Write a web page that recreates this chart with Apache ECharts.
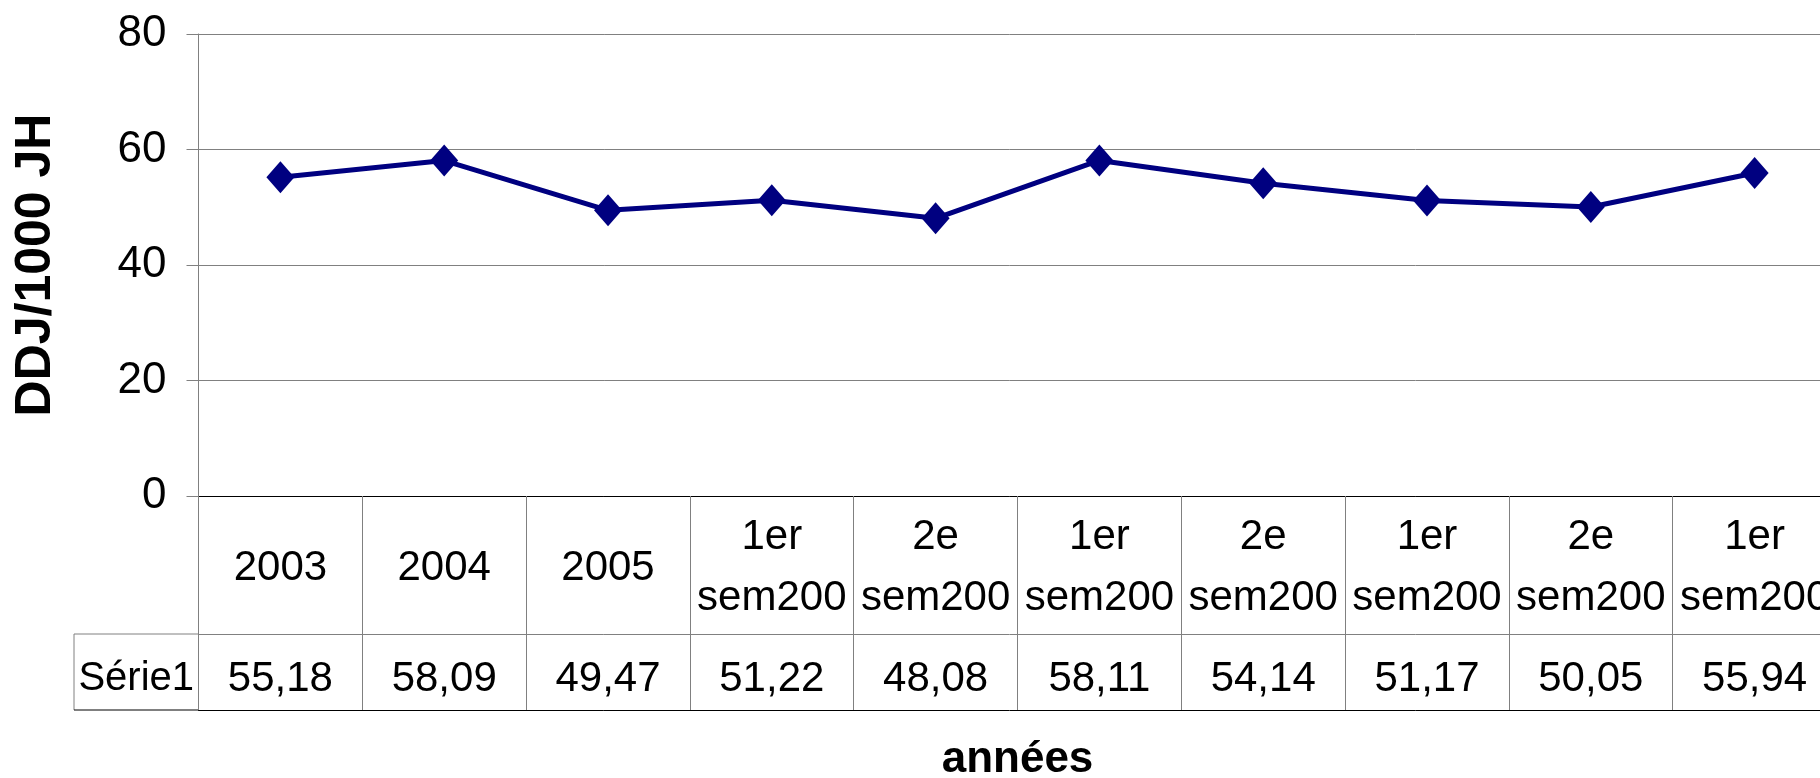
<!DOCTYPE html>
<html>
<head>
<meta charset="utf-8">
<script src="https://cdn.jsdelivr.net/npm/echarts@6/dist/echarts.min.js"></script>
<style>
  html, body { margin: 0; padding: 0; background: #fff; }
  #chart { width: 1820px; height: 778px; }
</style>
</head>
<body>
<div id="chart"></div>
<script>
// categories (text as shown, truncated in the original)
var categories = ['2003', '2004', '2005', '1er\nsem200', '2e\nsem200', '1er\nsem200',
                  '2e\nsem200', '1er\nsem200', '2e\nsem200', '1er\nsem200'];
var seriesName = 'Série1';
var seriesValues = [55.18, 58.09, 49.47, 51.22, 48.08, 58.11, 54.14, 51.17, 50.05, 55.94];
var yTicks = [0, 20, 40, 60, 80];

// layout
var font = "'Liberation Sans', Arial, sans-serif";
var gridLeft = 198.5, gridTop = 34, gridHeight = 462, gridWidth = 1638;
var catRowH = 138, valRowH = 76, legendCellW = 124.5;
var axisY = gridTop + gridHeight;

var valueLabels = seriesValues.map(function (v) {
    return v.toFixed(2).replace('.', ',');
});

var chart = echarts.init(document.getElementById('chart'), null, {renderer: 'canvas'});

var option = {
    animation: false,
    backgroundColor: '#fff',
    textStyle: {fontFamily: font},
    grid: {
        left: gridLeft, top: gridTop, width: gridWidth, height: gridHeight,
        containLabel: false, outerBoundsMode: 'none'
    },
    xAxis: [
        {
            // category row
            type: 'category',
            data: categories,
            position: 'bottom',
            boundaryGap: true,
            axisLine: {lineStyle: {color: '#000', width: 1}},
            axisTick: {show: true, length: catRowH + valRowH, lineStyle: {color: '#808080', width: 1}},
            axisLabel: {
                interval: 0, margin: catRowH / 2 + 3, verticalAlign: 'middle',
                color: '#000', fontSize: 42, lineHeight: 61, fontFamily: font
            },
            splitLine: {show: false}
        },
        {
            // values row
            type: 'category',
            data: valueLabels,
            position: 'bottom',
            offset: catRowH,
            boundaryGap: true,
            axisLine: {lineStyle: {color: '#808080', width: 1}},
            axisTick: {show: false},
            axisLabel: {
                interval: 0, margin: 45, verticalAlign: 'middle',
                color: '#000', fontSize: 42, fontFamily: font
            }
        },
        {
            // table bottom + axis title
            type: 'category',
            data: categories,
            position: 'bottom',
            offset: catRowH + valRowH,
            boundaryGap: true,
            axisLine: {lineStyle: {color: '#000', width: 1}},
            axisTick: {show: false},
            axisLabel: {show: false},
            name: 'années',
            nameLocation: 'middle',
            nameGap: 50,
            nameTextStyle: {
                fontSize: 44, fontWeight: 'bold', color: '#000',
                verticalAlign: 'middle', fontFamily: font
            }
        }
    ],
    yAxis: {
        type: 'value',
        min: yTicks[0],
        max: yTicks[yTicks.length - 1],
        interval: yTicks[1] - yTicks[0],
        name: 'DDJ/1000 JH',
        nameLocation: 'middle',
        nameRotate: 90,
        nameGap: 162,
        nameTextStyle: {
            fontSize: 50, fontWeight: 'bold', color: '#000',
            verticalAlign: 'middle', fontFamily: font
        },
        axisLine: {show: true, lineStyle: {color: '#808080', width: 1}},
        axisTick: {show: true, length: 12, lineStyle: {color: '#808080', width: 1}},
        axisLabel: {margin: 32, color: '#000', fontSize: 44, fontFamily: font},
        splitLine: {show: true, lineStyle: {color: '#808080', width: 1}}
    },
    graphic: [
        // legend cell of the data table
        {
            type: 'line', silent: true,
            shape: {x1: gridLeft - legendCellW, y1: axisY + catRowH, x2: gridLeft, y2: axisY + catRowH},
            style: {stroke: '#808080', lineWidth: 1}
        },
        {
            type: 'line', silent: true,
            shape: {x1: gridLeft - legendCellW, y1: axisY + catRowH, x2: gridLeft - legendCellW, y2: axisY + catRowH + valRowH},
            style: {stroke: '#808080', lineWidth: 1}
        },
        {
            type: 'line', silent: true,
            shape: {x1: gridLeft - legendCellW, y1: axisY + catRowH + valRowH, x2: gridLeft, y2: axisY + catRowH + valRowH},
            style: {stroke: '#000', lineWidth: 1}
        },
        {
            type: 'text', silent: true,
            x: gridLeft - legendCellW / 2, y: axisY + catRowH + 45,
            style: {
                text: seriesName, fill: '#000', font: '40px ' + font,
                textAlign: 'center', textVerticalAlign: 'middle'
            }
        }
    ],
    series: [
        {
            name: seriesName,
            type: 'line',
            xAxisIndex: 0,
            data: seriesValues,
            symbol: 'diamond',
            symbolSize: [28, 32],
            itemStyle: {color: '#000080'},
            lineStyle: {color: '#000080', width: 5},
            emphasis: {disabled: true}
        }
    ]
};

chart.setOption(option);
</script>
</body>
</html>
